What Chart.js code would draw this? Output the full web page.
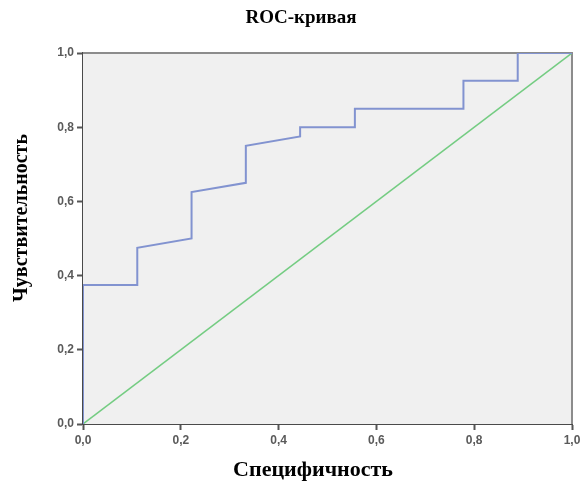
<!DOCTYPE html>
<html>
<head>
<meta charset="utf-8">
<script src="https://cdn.jsdelivr.net/npm/chart.js@4"></script>
<style>
  body { margin: 0; background: #fff; }
  #wrap { width: 580px; height: 483px; }
</style>
</head>
<body>
<div id="wrap"><canvas id="roc" width="580" height="483"></canvas></div>
<script>
// ROC curve points (1 - specificity, sensitivity)
const curveX = [0, 0, 0.111, 0.111, 0.222, 0.222, 0.333, 0.333, 0.444, 0.444, 0.556, 0.556, 0.778, 0.778, 0.889, 0.889, 1];
const curveY = [0, 0.375, 0.375, 0.475, 0.5, 0.625, 0.65, 0.75, 0.775, 0.8, 0.8, 0.85, 0.85, 0.925, 0.925, 1, 1];
// reference diagonal
const diagX = [0, 1];
const diagY = [0, 1];
const tickValues = [0, 0.2, 0.4, 0.6, 0.8, 1];

const titleText = "ROC-кривая";
const xTitleText = "Специфичность";
const yTitleText = "Чувствительность";

function toPoints(xs, ys) {
  return xs.map((x, i) => ({ x: x, y: ys[i] }));
}

function fmtTick(v) {
  return v.toFixed(1).replace(".", ",");
}

// grey plot background, frame and the titles
const framePlugin = {
  id: "frame",
  beforeDatasetsDraw(chart) {
    const { ctx, chartArea: a } = chart;
    ctx.save();
    ctx.fillStyle = "#f0f0f0";
    ctx.fillRect(a.left, a.top, a.right - a.left, a.bottom - a.top);
    ctx.strokeStyle = "#8c8c8c";
    ctx.lineWidth = 2;
    ctx.beginPath();
    ctx.moveTo(a.left, a.top);
    ctx.lineTo(a.right, a.top);
    ctx.lineTo(a.right, a.bottom);
    ctx.stroke();
    ctx.restore();
  },
  afterDraw(chart) {
    const ctx = chart.ctx;
    ctx.save();
    ctx.fillStyle = "#000";
    ctx.textAlign = "center";
    ctx.textBaseline = "middle";
    ctx.font = "bold 19px 'Liberation Serif'";
    ctx.fillText(titleText, 301, 18);
    ctx.font = "bold 22px 'Liberation Serif'";
    ctx.fillText(xTitleText, 313, 470);
    ctx.translate(22, 218);
    ctx.rotate(-Math.PI / 2);
    ctx.font = "bold 20px 'Liberation Serif'";
    ctx.fillText(yTitleText, 0, 0);
    ctx.restore();
  }
};

const axisCommon = {
  type: "linear",
  min: 0,
  max: 1,
  afterBuildTicks: (scale) => {
    scale.ticks = tickValues.map((v) => ({ value: v }));
  },
  ticks: {
    callback: fmtTick,
    color: "#5a5a5a",
    font: { family: "'Liberation Sans'", size: 12, weight: "bold" },
    padding: 3
  },
  grid: {
    drawOnChartArea: false,
    drawTicks: true,
    tickLength: 6,
    tickColor: "#555",
    tickWidth: 2
  },
  border: { display: true, color: "#4a4a4a", width: 2 }
};

new Chart(document.getElementById("roc"), {
  type: "line",
  data: {
    datasets: [
      {
        label: "ROC",
        data: toPoints(curveX, curveY),
        borderColor: "#8293d0",
        borderWidth: 2,
        pointRadius: 0,
        tension: 0,
        fill: false
      },
      {
        label: "Diagonal",
        data: toPoints(diagX, diagY),
        borderColor: "#74cc82",
        borderWidth: 1.5,
        pointRadius: 0,
        tension: 0,
        fill: false
      }
    ]
  },
  options: {
    responsive: false,
    animation: false,
    devicePixelRatio: 1,
    layout: { padding: { top: 53, right: 8, left: 0, bottom: 0 } },
    plugins: {
      legend: { display: false },
      tooltip: { enabled: false }
    },
    scales: {
      x: Object.assign({}, axisCommon, {
        position: "bottom",
        afterFit: (scale) => {
          scale.height = 59;
          scale.paddingLeft = 0;
          scale.paddingRight = 0;
        }
      }),
      y: Object.assign({}, axisCommon, {
        position: "left",
        afterFit: (scale) => {
          scale.width = 83;
          scale.paddingTop = 0;
          scale.paddingBottom = 0;
        }
      })
    }
  },
  plugins: [framePlugin]
});
</script>
</body>
</html>
